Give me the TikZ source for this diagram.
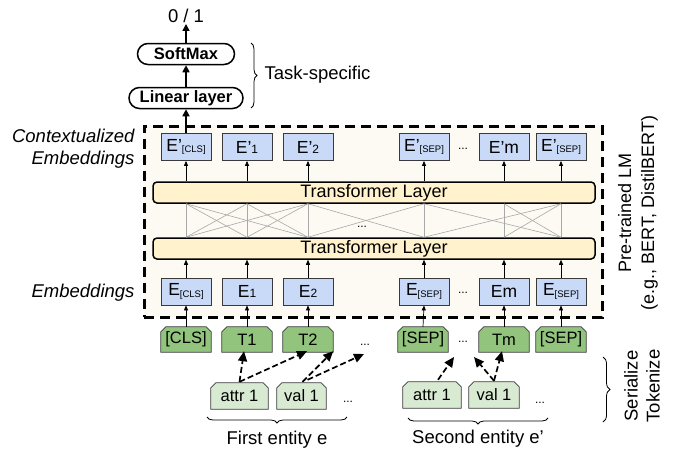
\documentclass[tikz,border=0pt]{standalone}
\usepackage{fontspec}
\setmainfont{Liberation Sans}
\usetikzlibrary{arrows.meta,decorations.pathreplacing,calc,shapes.misc}
\pgfdeclarelayer{bg}
\pgfsetlayers{bg,main}
\definecolor{eblue}{HTML}{C9DAF8}
\definecolor{tyellow}{HTML}{FFF2CC}
\definecolor{boxcream}{HTML}{FDFAF4}
\definecolor{tgreen}{HTML}{93C47D}
\definecolor{lgreen}{HTML}{D9EAD3}
\definecolor{edgegray}{HTML}{3A3A3A}
\definecolor{meshgray}{HTML}{A8A8A8}
\newcommand\fs[1]{\fontsize{#1}{#1}\selectfont}
\newcommand\smallsub[1]{{\fontsize{9.5}{10}\selectfont\raisebox{-1.5pt}{#1}}}
\newcommand\digsub[1]{{\fontsize{12}{12}\selectfont #1}}
\newcommand\chamf[2]{\begin{pgfonlayer}{bg}\filldraw[fill=#2,draw=edgegray,line width=0.8pt]
  ($(#1.north west)+(0,5)$) -- ($(#1.north west)+(5,0)$) -- ($(#1.north east)+(-5,0)$) --
  ($(#1.north east)+(0,5)$) -- (#1.south east) -- (#1.south west) -- cycle;\end{pgfonlayer}}
\begin{document}
\begin{tikzpicture}[x=1pt,y=-1pt,
  ebox/.style={draw=edgegray,fill=eblue,line width=0.8pt,minimum width=50pt,minimum height=27pt,inner sep=0pt,font=\fs{17.5}},
  tlayer/.style={draw=black,fill=tyellow,rounded corners=4pt,line width=1.5pt,minimum width=442pt,minimum height=21pt,inner sep=0pt,font=\fs{18}},
  pill/.style={rounded rectangle,draw=black,line width=1.5pt,fill=white,font=\bfseries\fs{16.5},inner sep=0pt,minimum height=21pt},
  tok/.style={minimum width=50pt,minimum height=25pt,inner sep=0pt,font=\fs{16.5}},
  thinarrow/.style={-{Triangle[length=5pt,width=4pt]},line width=0.7pt},
  thickarrow/.style={-{Triangle[length=7pt,width=7pt]},line width=1.6pt},
  dasharrow/.style={-{Triangle[length=10pt,width=9pt]},line width=1.7pt,dash pattern=on 6pt off 3pt},
  lab/.style={font=\fs{18.5}},
  dotsnode/.style={font=\fs{12},anchor=base,inner sep=0pt},
  mesh/.style={draw=meshgray,line width=0.6pt},
  brc/.style={decorate,decoration={brace,amplitude=6pt},line width=0.8pt}
]
\useasboundingbox (0,0) rectangle (674,453);

% pre-trained LM dashed box
\begin{pgfonlayer}{bg}
\node[draw=black,fill=boxcream,line width=3pt,dash pattern=on 10pt off 6pt,minimum width=458pt,minimum height=191pt,inner sep=0pt] (lm) at (373,221.5) {};
\end{pgfonlayer}

% contextualized embeddings
\node[ebox] (c1) at (186,147) {E’\smallsub{[CLS]}};
\node[ebox] (c2) at (247,147) {E’\digsub{1}};
\node[ebox] (c3) at (308,147) {E’\digsub{2}};
\node[ebox] (c4) at (424,147) {E’\smallsub{[SEP]}};
\node[ebox] (c5) at (504,147) {E’m};
\node[ebox] (c6) at (561,147) {E’\smallsub{[SEP]}};
\node[dotsnode] at (463,149) {...};

% transformer layers
\node[tlayer] (tl1) at (374,192.5) {Transformer Layer};
\node[tlayer] (tl2) at (374,248.5) {Transformer Layer};

% embeddings
\node[ebox] (e1) at (186,291.5) {E\smallsub{[CLS]}};
\node[ebox] (e2) at (247,291.5) {E\digsub{1}};
\node[ebox] (e3) at (308,291.5) {E\digsub{2}};
\node[ebox] (e4) at (424,291.5) {E\smallsub{[SEP]}};
\node[ebox] (e5) at (504,291.5) {Em};
\node[ebox] (e6) at (561,291.5) {E\smallsub{[SEP]}};
\node[dotsnode] at (463,293) {...};

% mesh
\foreach \i in {1,...,6}{
  \coordinate (mt\i) at (c\i.south |- tl1.south);
  \coordinate (mb\i) at (c\i.south |- tl2.north);
  \draw[mesh] (mt\i) -- (mb\i);
}
\foreach \a/\b in {1/2,1/3,2/3,3/4,4/6,5/6}{
  \draw[mesh] (mt\a) -- (mb\b);
  \draw[mesh] (mb\a) -- (mt\b);
}
\node[dotsnode] at (362,227) {...};

% arrows inside LM
\foreach \i in {1,...,6}{
  \draw[thinarrow] (tl1.north -| c\i.south) -- (c\i.south);
  \draw[thinarrow] (e\i.north) -- (tl2.south -| e\i.north);
}

% tokens
\node[tok] (k1) at (186,339.5) {[CLS]};
\node[tok] (k2) at (247,339.5) {T1};
\node[tok] (k3) at (308,339.5) {T2};
\node[tok] (k4) at (423,339.5) {[SEP]};
\node[tok] (k5) at (504,339.5) {Tm};
\node[tok] (k6) at (561,339.5) {[SEP]};
\foreach \i in {1,...,6}{\chamf{k\i}{tgreen}}
\node[dotsnode] at (365,345) {...};
\node[dotsnode] at (463,342) {...};
\foreach \i in {1,...,6}{\draw[thinarrow] (k\i.north) -- (e\i.south);}

% attribute tokens
\node[tok,minimum width=57pt,minimum height=26pt] (a1) at (239.5,396) {attr 1};
\node[tok,minimum width=49pt,minimum height=26pt] (v1) at (301.5,396) {val 1};
\node[tok,minimum width=58pt,minimum height=26pt] (a2) at (432,395) {attr 1};
\node[tok,minimum width=50pt,minimum height=26pt] (v2) at (494,395) {val 1};
\foreach \n in {a1,v1,a2,v2}{\chamf{\n}{lgreen}}
\node[dotsnode] at (348,402) {...};
\node[dotsnode] at (540,403) {...};

% dashed serialization arrows
\coordinate (d1) at (364,354);
\coordinate (d2) at (454,357);
\coordinate (d3) at (474,357);
\draw[dasharrow] ($(a1.north)+(0,-1)$) -- ($(k2.south)+(-3,-1)$);
\draw[dasharrow] ($(a1.north)+(0,-1)$) -- ($(k3.south)+(-1,-1)$);
\draw[dasharrow] ($(v1.north)+(1,-1)$) -- ($(k3.south east)+(0,-1)$);
\draw[dasharrow] ($(v1.north)+(6,-3)$) -- (d1);
\draw[dasharrow] ($(a2.north)+(6,-2)$) -- (d2);
\draw[dasharrow] ($(v2.north)+(0,-1)$) -- (d3);
\draw[dasharrow] ($(v2.north)+(0,-1)$) -- ($(k5.south)+(-2,-1)$);

% task-specific head
\node[pill,minimum width=114pt] (lin) at (186,98) {Linear layer};
\node[pill,minimum width=97pt] (soft) at (186,54) {SoftMax};
\node[font=\fs{18.5},inner sep=1pt] (out) at (186,16) {0 / 1};
\draw[thickarrow] (c1.north) -- (lin.south);
\draw[thickarrow] (lin.north) -- (soft.south);
\draw[thickarrow] (soft.north) -- (out.south);

% braces and labels
\coordinate (bt1) at (251,43);
\coordinate (bt2) at (251,108);
\draw[brc] (bt1) -- (bt2);
\node[lab,anchor=west] at (261,75) {Task-specific};

\node[lab,font=\itshape\fontsize{18.5}{22}\selectfont,align=right,anchor=east] at (138,149) {Contextualized\\Embeddings};
\node[lab,font=\itshape\fs{18.5},anchor=east] at (138,293) {Embeddings};

\node[lab,font=\fontsize{18}{23}\selectfont,rotate=90,align=center] at (638,213) {Pre-trained LM\\(e.g., BERT, DistilBERT)};

\coordinate (bs1) at (603,357);
\coordinate (bs2) at (603,422);
\draw[brc,decoration={brace,amplitude=7pt}] (bs1) -- (bs2);
\node[lab,font=\fontsize{18.5}{22}\selectfont,rotate=90,align=center] at (642,386) {Serialize\\Tokenize};

\coordinate (bf1) at (347,417);
\coordinate (bf2) at (207,417);
\draw[brc] (bf1) -- (bf2);
\node[lab] at (277,440) {First entity e};
\coordinate (bg1) at (548,418);
\coordinate (bg2) at (408,418);
\draw[brc] (bg1) -- (bg2);
\node[lab] at (478,439) {Second entity e’};
\end{tikzpicture}
\end{document}
